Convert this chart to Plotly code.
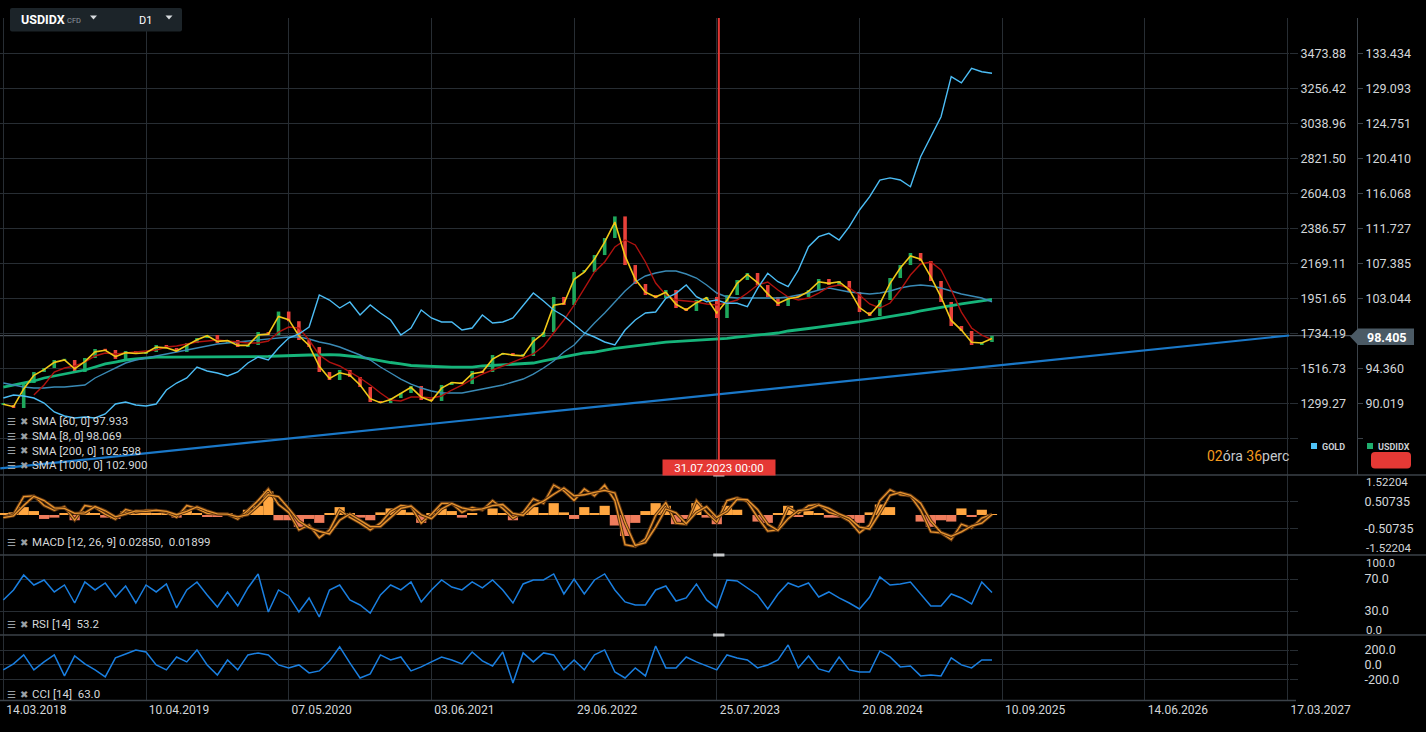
import plotly.graph_objects as go

W, H = 1426, 732
FONT = 'Roboto, sans-serif'
GRID = '#272d33'
SEP = '#3b4249'
TXT = '#d3d6d9'

# ---------------- data ----------------
# one sample every 20 daily bars, bar 0 = 14.03.2018
bars = list(range(0, 1941, 20))

usd_close = [89.81, 89.44, 92.54, 93.90, 94.40, 95.39, 95.39, 93.90, 95.64, 96.76,
             96.63, 95.52, 96.51, 96.14, 96.38, 97.25, 96.88, 96.38, 97.50, 98.12,
             98.49, 97.50, 97.87, 97.00, 97.25, 98.86, 98.50, 101.40, 100.20, 97.87,
             97.00, 93.90, 92.91, 94.15, 93.28, 92.04, 90.18, 90.06, 90.68, 91.30,
             92.17, 90.43, 90.31, 92.29, 92.66, 92.41, 94.03, 93.90, 96.01, 96.26,
             95.89, 95.89, 98.24, 98.86, 103.21, 102.21, 106.31, 106.31, 108.41, 110.52,
             113.20, 107.17, 104.82, 103.45, 103.08, 104.07, 101.84, 101.47, 102.83, 103.21,
             100.60, 103.45, 105.31, 106.18, 104.69, 103.21, 102.09, 103.33, 103.21, 104.07,
             105.44, 104.69, 105.19, 103.83, 101.34, 100.85, 102.83, 105.56, 107.17, 108.66,
             107.67, 105.19, 102.59, 99.61, 98.99, 97.25, 97.62, 98.40]

usd_sma8 = [89.9, 89.6, 91.8, 93.5, 94.2, 95.1, 95.4, 94.3, 95.2, 96.4,
            96.6, 95.8, 96.3, 96.2, 96.3, 97.0, 96.9, 96.5, 97.2, 97.9,
            98.4, 97.7, 97.8, 97.2, 97.2, 98.5, 98.6, 100.8, 100.4, 98.4,
            97.2, 94.6, 93.1, 93.8, 93.5, 92.3, 90.6, 90.1, 90.5, 91.2,
            92.0, 90.8, 90.3, 91.9, 92.6, 92.5, 93.7, 93.9, 95.5, 96.2,
            96.0, 95.9, 97.7, 98.7, 102.2, 102.4, 105.4, 106.3, 107.9, 110.0,
            112.5, 108.3, 105.4, 103.8, 103.2, 103.8, 102.3, 101.6, 102.5, 103.1,
            101.2, 102.8, 104.9, 106.0, 105.0, 103.6, 102.4, 103.0, 103.2, 103.9,
            105.1, 104.9, 105.1, 104.1, 101.9, 101.0, 102.4, 104.9, 106.8, 108.3,
            107.9, 105.7, 103.2, 100.3, 99.1, 97.6, 97.5, 98.07]

usd_sma60 = [None, None, None,
             91.05, 92.29, 93.90, 94.40, 94.65, 95.14, 95.89, 96.26, 96.14, 96.26,
             96.38, 96.51, 96.63, 97.00, 97.13, 97.38, 97.62, 97.75, 97.87, 97.75,
             97.62, 97.50, 97.50, 97.75, 98.86, 99.48, 99.36, 97.87, 96.01, 95.14,
             94.65, 93.90, 93.16, 92.29, 91.30, 90.43, 90.31, 90.80, 90.80, 90.68,
             90.93, 91.67, 92.29, 93.03, 93.65, 94.15, 94.65, 95.14, 95.64, 96.14,
             97.13, 98.74, 100.35, 102.21, 104.32, 106.31, 107.55, 109.41, 110.28, 109.66,
             107.55, 104.94, 103.45, 102.83, 102.71, 102.59, 102.34, 102.21, 102.46, 102.83,
             103.70, 104.69, 105.07, 104.07, 103.21, 102.83, 103.08, 103.70, 104.45, 104.69,
             104.32, 103.45, 102.34, 101.84, 102.46, 104.07, 105.93, 107.30, 107.55, 106.55,
             104.07, 101.34, 99.36, 98.49, 97.93]

usd_sma200 = [92.54, 92.29, 92.04, 91.92, 91.92, 92.04, 92.04, 92.17, 92.29, 93.16,
              93.78, 94.40, 95.02, 95.39, 95.64, 95.89, 96.14, 96.38, 96.63, 96.88,
              97.13, 97.38, 97.50, 97.62, 97.75, 97.87, 98.00, 98.12, 98.24, 98.24,
              98.00, 97.62, 97.38, 97.00, 96.51, 96.01, 95.39, 94.52, 93.78, 93.03,
              92.41, 91.92, 91.55, 91.30, 91.30, 91.30, 91.55, 91.79, 92.04, 92.29,
              92.66, 93.03, 93.65, 94.40, 95.27, 96.38, 97.25, 98.62, 99.98, 101.22,
              102.59, 103.95, 105.07, 105.81, 106.18, 106.43, 106.43, 106.06, 105.56, 104.69,
              103.70, 103.21, 103.08, 103.08, 103.08, 103.08, 103.08, 103.21, 103.45, 103.70,
              104.07, 104.32, 104.07, 103.83, 103.70, 103.58, 103.70, 103.95, 104.32, 104.57,
              104.69, 104.57, 104.32, 103.95, 103.58, 103.33, 103.08, 102.60]

usd_sma1000 = [92.04, 92.29, 92.54, 92.79, 93.16, 93.41, 93.65, 93.90, 94.15, 94.52,
               94.90, 95.14, 95.39, 95.52, 95.64, 95.76, 95.76, 95.76, 95.76, 95.83,
               95.83, 95.83, 95.83, 95.83, 95.83, 95.83, 95.83, 95.89, 95.95, 96.01,
               96.01, 96.01, 96.07, 96.01, 95.89, 95.76, 95.52, 95.27, 95.08, 94.90,
               94.71, 94.65, 94.59, 94.52, 94.52, 94.52, 94.52, 94.65, 94.71, 94.77,
               94.83, 94.90, 95.02, 95.27, 95.52, 95.76, 96.01, 96.26, 96.38, 96.63,
               96.82, 97.00, 97.13, 97.25, 97.44, 97.62, 97.69, 97.75, 97.81, 97.87,
               98.00, 98.08, 98.24, 98.37, 98.49, 98.62, 98.74, 98.99, 99.11, 99.30,
               99.48, 99.67, 99.86, 99.98, 100.14, 100.35, 100.54, 100.72, 100.97, 101.22,
               101.47, 101.72, 101.97, 102.15, 102.34, 102.52, 102.71, 102.90]

gold = [1332.2, 1350.8, 1344.6, 1332.2, 1301.1, 1245.2, 1220.3, 1207.9, 1214.1, 1207.9,
        1232.8, 1294.9, 1307.4, 1288.7, 1282.5, 1294.9, 1381.9, 1425.4, 1456.5, 1524.8,
        1500.0, 1487.5, 1468.9, 1493.8, 1549.7, 1587.0, 1568.3, 1642.9, 1705.0, 1729.8,
        1773.3, 1972.2, 1941.1, 1891.4, 1928.7, 1847.9, 1910.0, 1860.3, 1816.8, 1723.6,
        1767.1, 1879.0, 1829.3, 1804.4, 1804.4, 1754.7, 1767.1, 1847.9, 1798.2, 1804.4,
        1829.3, 1910.0, 1984.6, 1934.9, 1879.0, 1841.7, 1785.8, 1736.1, 1711.2, 1680.1,
        1661.5, 1754.7, 1816.8, 1860.3, 1866.5, 1951.7, 1982.7, 2034.3, 1961.6, 1930.5,
        1941.1, 1920.6, 1920.6, 1899.5, 2013.8, 2107.0, 2054.8, 2023.7, 2127.0, 2272.0,
        2334.4, 2355.5, 2313.7, 2396.5, 2500.3, 2582.9, 2686.0, 2700.0, 2686.7, 2645.0,
        2831.4, 2955.7, 3079.9, 3328.5, 3290.0, 3380.7, 3359.5, 3349.6]

macd_line = [-0.09, 0.03, 0.70, 0.73, 0.36, 0.18, 0.32, -0.20, 0.36, 0.29,
             0.03, -0.16, 0.21, 0.10, 0.18, 0.18, 0.10, -0.09, 0.36, 0.25,
             0.06, 0.03, 0.03, -0.16, 0.18, 0.55, 0.99, 0.40, 0.10, -0.57,
             -0.38, -0.87, -0.57, 0.18, -0.09, -0.31, -0.57, -0.31, 0.14, 0.36,
             0.32, -0.31, 0.03, 0.44, 0.44, 0.10, 0.29, 0.18, 0.55, 0.25,
             -0.12, 0.10, 0.62, 0.44, 1.14, 0.92, 0.55, 0.99, 0.73, 1.14,
             0.55, -1.13, -1.20, -0.90, -0.01, 0.47, -0.31, -0.35, 0.55, 0.10,
             -0.27, 0.55, 0.66, 0.51, -0.09, -0.61, -0.57, 0.29, 0.06, 0.36,
             0.40, 0.10, -0.01, -0.23, -0.68, -0.38, 0.55, 0.96, 0.77, 0.73,
             0.18, -0.64, -0.68, -0.94, -0.35, -0.49, -0.12, 0.0285]

macd_signal = [-0.10, -0.03, 0.36, 0.71, 0.55, 0.27, 0.25, 0.06, 0.08, 0.32,
               0.16, -0.07, 0.03, 0.16, 0.14, 0.18, 0.14, 0.01, 0.14, 0.31,
               0.16, 0.04, 0.03, -0.07, 0.01, 0.36, 0.77, 0.70, 0.25, -0.23,
               -0.48, -0.62, -0.72, -0.20, 0.04, -0.20, -0.44, -0.44, -0.09, 0.25,
               0.34, 0.01, -0.14, 0.23, 0.44, 0.27, 0.19, 0.23, 0.36, 0.40,
               0.06, -0.01, 0.36, 0.53, 0.79, 1.03, 0.73, 0.77, 0.86, 0.94,
               0.84, -0.29, -1.16, -1.05, -0.46, 0.23, 0.08, -0.33, 0.10, 0.32,
               -0.09, 0.14, 0.60, 0.58, 0.21, -0.35, -0.59, -0.14, 0.17, 0.21,
               0.38, 0.25, 0.04, -0.12, -0.46, -0.53, 0.08, 0.75, 0.86, 0.75,
               0.45, -0.23, -0.66, -0.81, -0.64, -0.42, -0.31, 0.019]

macd_hist = [0.05, 0.10, 0.30, 0.15, -0.15, -0.10, 0.05, -0.20, 0.15, 0.05,
             -0.10, -0.15, 0.15, 0.05, 0.10, 0.05, 0.05, -0.10, 0.20, 0.05,
             -0.05, -0.05, 0.05, -0.10, 0.20, 0.35, 0.90, -0.20, -0.20, -0.45,
             -0.15, -0.30, 0.05, 0.30, 0.05, -0.10, -0.20, 0.10, 0.25, 0.20,
             0.10, -0.30, 0.05, 0.25, 0.15, -0.10, 0.05, 0.00, 0.25, 0.05,
             -0.20, 0.05, 0.30, 0.05, 0.45, 0.10, -0.15, 0.30, 0.05, 0.35,
             -0.40, -0.80, -0.30, 0.15, 0.45, 0.35, -0.35, -0.15, 0.45, -0.10,
             -0.35, 0.35, 0.20, 0.00, -0.25, -0.30, 0.05, 0.35, -0.05, 0.15,
             0.05, -0.10, -0.10, -0.15, -0.30, 0.10, 0.40, 0.30, 0.00, 0.00,
             -0.25, -0.45, -0.20, -0.25, 0.25, -0.05, 0.20, 0.01]

rsi = [43.8, 56.3, 75.0, 62.5, 68.8, 53.8, 62.5, 40.0, 66.3, 56.3,
       65.0, 47.5, 61.3, 40.0, 62.5, 53.8, 63.8, 33.8, 56.3, 66.3,
       50.0, 35.0, 53.8, 36.3, 58.8, 76.3, 28.8, 56.3, 48.8, 28.8,
       46.3, 22.5, 56.3, 62.5, 43.8, 37.5, 27.5, 50.0, 62.5, 56.3,
       66.3, 41.3, 56.3, 68.8, 60.0, 56.3, 66.3, 58.8, 68.8, 56.3,
       40.0, 63.8, 68.8, 68.8, 76.3, 51.3, 70.0, 51.3, 68.8, 76.3,
       56.3, 41.3, 37.5, 37.5, 56.3, 61.3, 42.5, 46.3, 63.8, 43.8,
       33.8, 68.8, 67.5, 58.8, 50.0, 32.5, 51.3, 65.0, 60.0, 65.0,
       47.5, 53.8, 46.3, 40.0, 32.5, 47.5, 72.5, 62.5, 63.8, 66.3,
       51.3, 36.3, 36.3, 51.3, 46.3, 38.8, 66.3, 53.2]

cci = [-72, 10, 133, -72, 37, 133, -154, 119, 10, -72,
       -168, 92, 146, 201, 173, -4, -72, 105, 37, 201,
       -4, -141, 64, -72, 133, 160, 133, -4, -45, -4,
       -113, -86, 51, 242, 23, -182, -127, 133, 64, 105,
       -86, -31, 37, 105, 64, 10, 173, 51, -18, 173,
       -250, 160, 37, 160, 133, -72, 64, -72, 133, 201,
       -100, -182, -45, -154, 255, -45, -45, 105, 37, -18,
       -72, 133, 92, 64, -45, -4, 64, 269, -45, 119,
       -59, -100, 105, -72, -100, -100, 187, 105, -31, -18,
       -154, -141, -154, 92, -4, -45, 64, 63]

trend_bars = [-6, 2524]
trend_usd = [81.96, 98.44]
last_price = 98.405
marker_bar = 1404
marker_label = '31.07.2023 00:00'

tick_bars = [0, 280, 560, 840, 1120, 1400, 1680, 1960, 2240, 2520]
tick_dates = ['14.03.2018', '10.04.2019', '07.05.2020', '03.06.2021', '29.06.2022',
              '25.07.2023', '20.08.2024', '10.09.2025', '14.06.2026', '17.03.2027']

gold_ticks = [1081.81, 1299.27, 1516.73, 1734.19, 1951.65, 2169.11, 2386.57, 2604.03,
              2821.50, 3038.96, 3256.42, 3473.88]
gold_labels = ['', '1299.27', '1516.73', '1734.19', '1951.65', '2169.11', '2386.57',
               '2604.03', '2821.50', '3038.96', '3256.42', '3473.88']
usd_ticks = [85.678, 90.019, 94.360, 98.702, 103.044, 107.385, 111.727, 116.068,
             120.410, 124.751, 129.093, 133.434]
usd_labels = ['', '90.019', '94.360', '', '103.044', '107.385', '111.727', '116.068',
              '120.410', '124.751', '129.093', '133.434']

sma_labels = ['SMA [60, 0] 97.933', 'SMA [8, 0] 98.069',
              'SMA [200, 0] 102.598', 'SMA [1000, 0] 102.900']
macd_label = 'MACD [12, 26, 9] 0.02850,  0.01899'
rsi_label = 'RSI [14]  53.2'
cci_label = 'CCI [14]  63.0'


def px(x):
    return x / W


def py(y):
    return 1 - y / H


# candle bodies from consecutive closes, drawn as thin bars
opens = [usd_close[0]] + usd_close[:-1]
lows = [min(o, c) for o, c in zip(opens, usd_close)]
body = [max(abs(c - o), 0.15) for o, c in zip(opens, usd_close)]
body_colors = ['#1fa85c' if c >= o else '#e8413a' for o, c in zip(opens, usd_close)]

fig = go.Figure()

fig.add_trace(go.Scatter(x=bars, y=usd_sma1000, mode='lines', line=dict(color='#16b47a', width=2.8),
                         xaxis='x', yaxis='y'))
fig.add_trace(go.Scatter(x=bars, y=usd_sma200, mode='lines', line=dict(color='#3a8ab5', width=1.4),
                         xaxis='x', yaxis='y'))
fig.add_trace(go.Scatter(x=trend_bars, y=trend_usd, mode='lines', line=dict(color='#1a78c8', width=2.2),
                         xaxis='x', yaxis='y'))
fig.add_trace(go.Bar(x=bars, y=body, base=lows, width=7,
                     marker=dict(color=body_colors, line=dict(width=0)),
                     xaxis='x', yaxis='y'))
fig.add_trace(go.Scatter(x=bars, y=usd_sma60, mode='lines', line=dict(color='#b0120f', width=1.4),
                         xaxis='x', yaxis='y'))
fig.add_trace(go.Scatter(x=bars, y=usd_sma8, mode='lines', line=dict(color='#f0c818', width=1.6),
                         xaxis='x', yaxis='y'))
fig.add_trace(go.Scatter(x=bars, y=gold, mode='lines', line=dict(color='#4cbdf5', width=1.4),
                         xaxis='x', yaxis='y2'))

# MACD
hist_colors = ['#ffa640' if v >= 0 else '#ef7c5c' for v in macd_hist]
fig.add_trace(go.Bar(x=bars, y=macd_hist, width=20, marker=dict(color=hist_colors, line=dict(width=0)),
                     xaxis='x2', yaxis='y3'))
for series in (macd_line, macd_signal):
    fig.add_trace(go.Scatter(x=bars, y=series, mode='lines', line=dict(color='#5a3210', width=3.2),
                             xaxis='x2', yaxis='y3'))
    fig.add_trace(go.Scatter(x=bars, y=series, mode='lines', line=dict(color='#e8952f', width=1.3),
                             xaxis='x2', yaxis='y3'))

# RSI / CCI
fig.add_trace(go.Scatter(x=bars, y=rsi, mode='lines', line=dict(color='#1a7fe0', width=1.5),
                         xaxis='x3', yaxis='y4'))
fig.add_trace(go.Scatter(x=bars, y=cci, mode='lines', line=dict(color='#1a7fe0', width=1.5),
                         xaxis='x4', yaxis='y5'))

x_range = [-6.5, 2522.8]
tickfont = dict(family=FONT, size=12.5, color=TXT)
base_x = dict(range=x_range, tickvals=tick_bars, showgrid=True, gridcolor=GRID, gridwidth=1,
              zeroline=False, showticklabels=False, ticks='', showline=False,
              domain=[0, px(1289)], fixedrange=True)
base_y = dict(side='right', showgrid=True, gridcolor=GRID, zeroline=False, showline=False,
              ticks='outside', ticklen=8, tickcolor=GRID, tickfont=tickfont,
              ticklabelstandoff=64, fixedrange=True)

# ---------------- shapes ----------------
shapes = []


def rrect(x0, y0, x1, y1, r, color):
    p = (f"M {px(x0 + r)},{py(y0)} L {px(x1 - r)},{py(y0)} Q {px(x1)},{py(y0)} {px(x1)},{py(y0 + r)} "
         f"L {px(x1)},{py(y1 - r)} Q {px(x1)},{py(y1)} {px(x1 - r)},{py(y1)} "
         f"L {px(x0 + r)},{py(y1)} Q {px(x0)},{py(y1)} {px(x0)},{py(y1 - r)} "
         f"L {px(x0)},{py(y0 + r)} Q {px(x0)},{py(y0)} {px(x0 + r)},{py(y0)} Z")
    shapes.append(dict(type='path', path=p, xref='paper', yref='paper', fillcolor=color,
                       line=dict(width=0), layer='above'))


def tri(x0, x1, y0, y1, color):
    p = f"M {px(x0)},{py(y0)} L {px(x1)},{py(y0)} L {px((x0 + x1) / 2)},{py(y1)} Z"
    shapes.append(dict(type='path', path=p, xref='paper', yref='paper', fillcolor=color,
                       line=dict(width=0), layer='above'))


# header box
rrect(10, 8, 182, 31.5, 2, '#1c2429')
tri(90, 97, 15.5, 19.5, '#d8dcdf')
tri(165.5, 172.5, 15.5, 19.5, '#d8dcdf')

# pane separators
for yy in (475, 555, 635):
    shapes.append(dict(type='line', xref='paper', yref='paper', x0=0, x1=1, y0=py(yy), y1=py(yy),
                       line=dict(color=SEP, width=1.5)))
shapes.append(dict(type='line', xref='paper', yref='paper', x0=0, x1=px(1296), y0=py(700.5), y1=py(700.5),
                   line=dict(color=SEP, width=1.5)))

# current price line
shapes.append(dict(type='line', xref='paper', yref='y', x0=0, x1=px(1352), y0=last_price, y1=last_price,
                   line=dict(color='#59636d', width=1), layer='below'))

# marker line
shapes.append(dict(type='line', xref='x', yref='paper', x0=marker_bar, x1=marker_bar,
                   y0=py(475), y1=py(18), line=dict(color='#e53935', width=2)))
for yy in (475, 555, 635):
    shapes.append(dict(type='rect', xref='x', yref='paper', x0=marker_bar - 11, x1=marker_bar + 11,
                       y0=py(yy + 1.5), y1=py(yy - 1.5), fillcolor='#c8cacc', line=dict(width=0),
                       layer='above'))

# price tag
tag = (f"M {px(1350)},{py(336.5)} L {px(1358)},{py(328.5)} L {px(1414)},{py(328.5)} "
       f"L {px(1414)},{py(345)} L {px(1358)},{py(345)} Z")
shapes.append(dict(type='path', path=tag, xref='paper', yref='paper', fillcolor='#4b5a65',
                   line=dict(width=0), layer='above'))

# legend squares and red button
shapes.append(dict(type='rect', xref='paper', yref='paper', x0=px(1311), x1=px(1317), y0=py(449),
                   y1=py(443), fillcolor='#4fc3f7', line=dict(width=0)))
shapes.append(dict(type='rect', xref='paper', yref='paper', x0=px(1367), x1=px(1373), y0=py(449),
                   y1=py(443), fillcolor='#1fae6e', line=dict(width=0)))
rrect(1371, 452, 1411, 468.5, 4, '#e53935')

# ---------------- annotations ----------------
notes = []


def note(x, y, text, size=12, color=TXT, anchor='left', **kw):
    notes.append(dict(x=px(x), y=py(y), xref='paper', yref='paper', text=text, showarrow=False,
                      xanchor=anchor, yanchor='middle',
                      font=dict(size=size, color=color, family=FONT), **kw))


note(19, 19.5, '<b>USDIDX</b>', size=12.5, color='#ffffff')
note(65, 20, 'CFD', size=7.5, color='#8e979d')
note(137, 20.5, 'D1', size=11, color='#ffffff')


def indicator_label(y, text):
    note(5, y, '\u2630', size=10, color='#9aa0a5')
    note(18, y, '\u2716', size=9.5, color='#9aa0a5')
    note(30, y, text, size=11.5, color='#d6d8da')


for yy, lab in zip((421.5, 436, 450.5, 465), sma_labels):
    indicator_label(yy, lab)
indicator_label(542, macd_label)
indicator_label(624, rsi_label)
indicator_label(694, cci_label)

# edge labels of the indicator scales
note(1364, 482, '1.52204', size=11.5)
note(1364, 548, '-1.52204', size=11.5)
note(1364, 563, '100.0', size=11.5)
note(1364, 629.5, '0.0', size=11.5)

note(1386, 337, '<b>98.405</b>', size=12.5, color='#ffffff', anchor='center')
note(1320, 446.5, '<b>GOLD</b>', size=9, color='#c9ced2')
note(1376, 446.5, '<b>USDIDX</b>', size=9, color='#c9ced2')
note(1291, 455.5, '<span style="color:#f39a1e">02</span>óra <span style="color:#f39a1e">36</span>perc',
     size=14, color='#c5c9cc', anchor='right')

notes.append(dict(x=marker_bar, xref='x', y=py(467.5), yref='paper', text=marker_label,
                  showarrow=False, xanchor='center', yanchor='middle', bgcolor='#e53935',
                  width=110, height=13, font=dict(size=11.5, color='#ffffff', family=FONT)))

fig.update_layout(
    width=W, height=H,
    margin=dict(l=0, r=0, t=0, b=0, autoexpand=False),
    paper_bgcolor='#000000', plot_bgcolor='#000000',
    showlegend=False, hovermode=False, dragmode=False,
    font=dict(family=FONT, color=TXT),
    barmode='overlay',
    xaxis=dict(base_x, anchor='y'),
    xaxis2=dict(base_x, anchor='y3', matches='x'),
    xaxis3=dict(base_x, anchor='y4', matches='x'),
    xaxis4=dict(base_x, anchor='y5', matches='x', showticklabels=True, ticktext=tick_dates,
                tickfont=dict(family=FONT, size=12, color=TXT), ticklabelshift=33),
    yaxis=dict(domain=[py(475), py(18)], range=[81.128, 137.81], side='right', anchor='free',
               position=px(1357), tickvals=usd_ticks, ticktext=usd_labels, showgrid=False,
               showline=True, linecolor=SEP, linewidth=1, ticks='outside', ticklen=5, tickcolor=SEP,
               tickfont=tickfont, zeroline=False, fixedrange=True),
    yaxis2=dict(base_y, overlaying='y', anchor='x', range=[853.77, 3693.2], tickvals=gold_ticks,
                ticktext=gold_labels, ticklabelstandoff=0),
    yaxis3=dict(base_y, anchor='x2', domain=[py(555), py(475)], range=[-1.52204, 1.52204],
                tickvals=[-0.50735, 0.50735], ticktext=['-0.50735', '0.50735']),
    yaxis4=dict(base_y, anchor='x3', domain=[py(635), py(555)], range=[0, 100],
                tickvals=[30, 70], ticktext=['30.0', '70.0']),
    yaxis5=dict(base_y, anchor='x4', domain=[py(700.5), py(635)], range=[-490, 405],
                tickvals=[-200, 0, 200], ticktext=['-200.0', '0.0', '200.0']),
    shapes=shapes,
    annotations=notes,
)

fig.write_html("out.html", config={'displayModeBar': False},
               post_script="document.body.style.margin='0';")
